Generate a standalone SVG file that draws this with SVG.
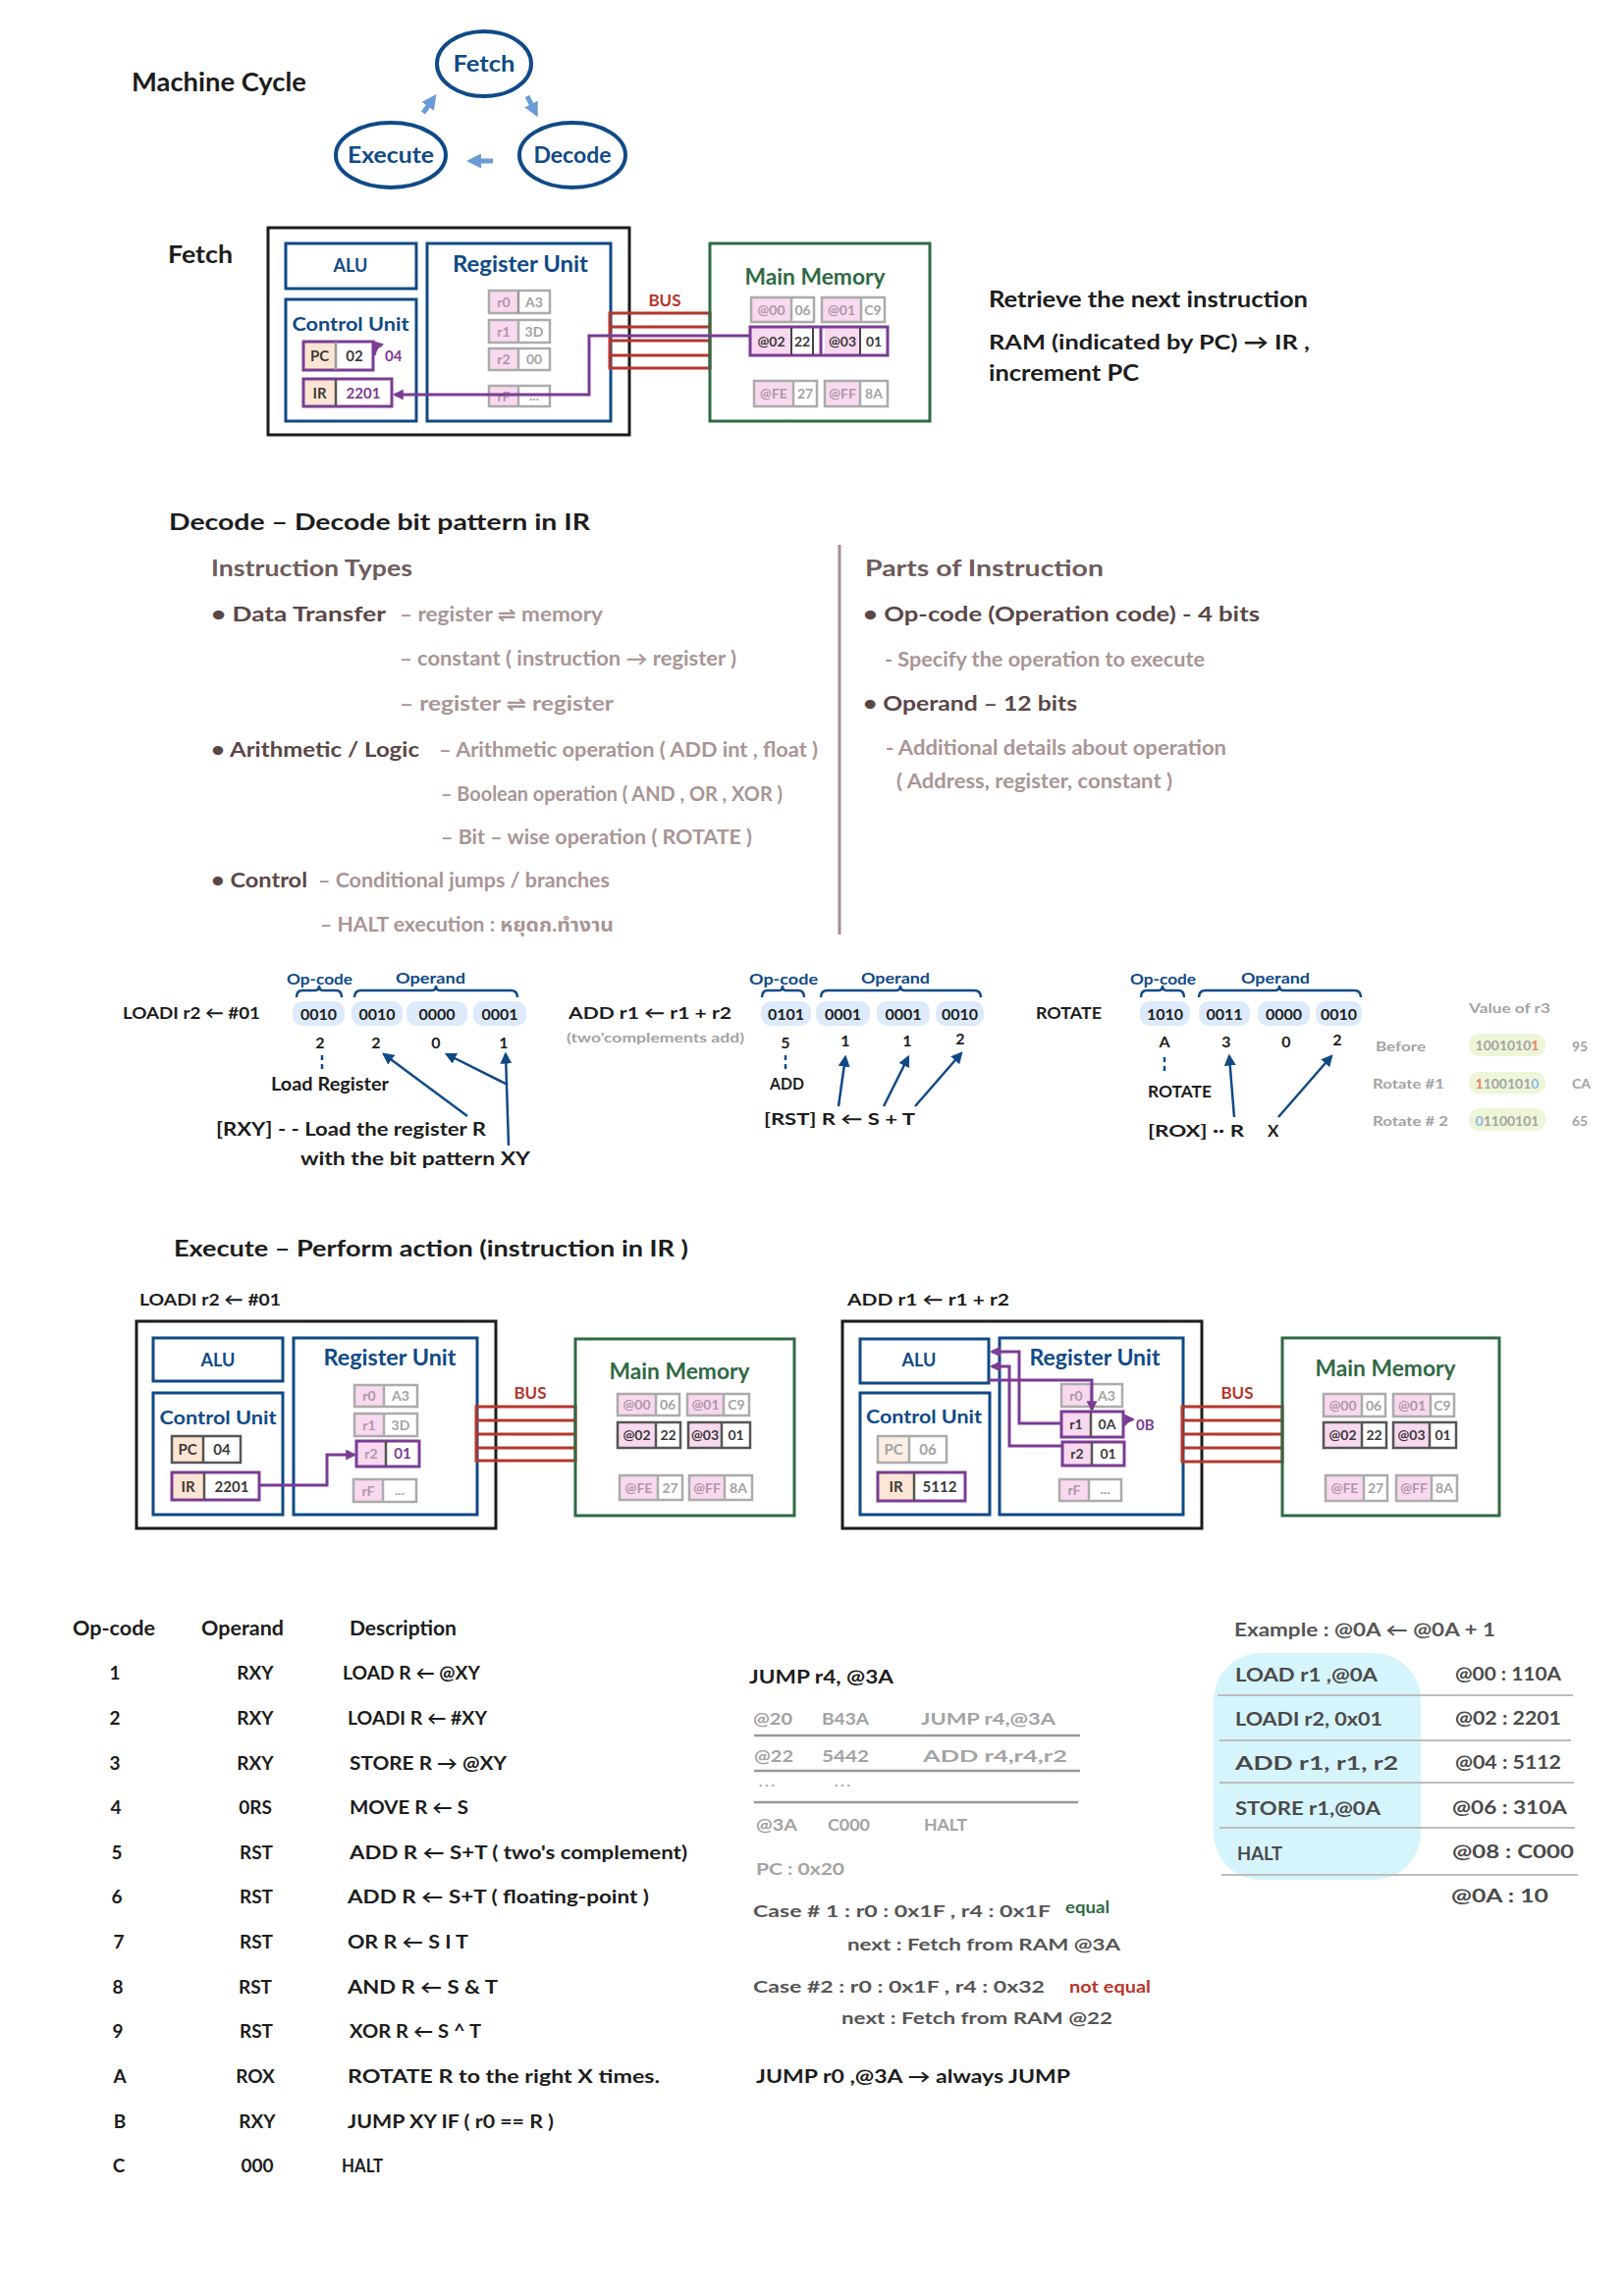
<svg xmlns="http://www.w3.org/2000/svg" width="1654" height="2339" viewBox="0 0 1654 2339">
<style>
text{font-family:Lato,"DejaVu Sans","Noto Sans","Noto Sans Thai",sans-serif;font-weight:700}
.k{fill:#1c1c1c}.b{fill:#104a86}.g{fill:#2f6a44}.r{fill:#b5362c}.p{fill:#7b3c94}
.gr{fill:#a3a3a3}.lb{fill:#b096a8}.dk{fill:#3a3a3a}.mg{fill:#555}
.h1{fill:#6e5b5b}.h2{fill:#5b4646}.h3{fill:#a99595}
.bb{fill:none;stroke:#104a86;stroke-width:3}
.bk{fill:none;stroke:#1c1c1c;stroke-width:3}
.bg{fill:none;stroke:#2f6a44;stroke-width:3}
.bus{fill:none;stroke:#b5362c;stroke-width:3}
.pink{fill:#f9d9ef}.peach{fill:#fde5d3}.white{fill:#fff}
.cg{fill:none;stroke:#ababab;stroke-width:2.5}
.cd{fill:none;stroke:#555;stroke-width:2.5}
.cp{fill:none;stroke:#7b3c94;stroke-width:3}
.pl{fill:none;stroke:#7b3c94;stroke-width:3}
.bl{fill:none;stroke:#104a86;stroke-width:2.5}
.ds{fill:none;stroke:#104a86;stroke-width:2.5;stroke-dasharray:5 4}
.pill{fill:#dceafb}.vpill{fill:#eef6d8}
.sep{stroke:#999;stroke-width:2.5}
.sepl{stroke:#bdbdbd;stroke-width:2}
.cy{fill:none;stroke:#6b9bd6;stroke-width:5}
.ell{fill:#fff;stroke:#104a86;stroke-width:4}
.c{text-anchor:middle}
</style>
<defs>
<marker id="ap" viewBox="0 0 10 10" refX="8" refY="5" markerWidth="11" markerHeight="11" markerUnits="userSpaceOnUse" orient="auto"><path d="M0,0 L10,5 L0,10 z" fill="#7b3c94"/></marker>
<marker id="ab" viewBox="0 0 10 10" refX="8" refY="5" markerWidth="12" markerHeight="12" markerUnits="userSpaceOnUse" orient="auto"><path d="M0,0 L10,5 L0,10 z" fill="#104a86"/></marker>
<marker id="al" viewBox="0 0 10 10" refX="6" refY="5" markerWidth="15" markerHeight="15" markerUnits="userSpaceOnUse" orient="auto"><path d="M0,0 L10,5 L0,10 z" fill="#6b9bd6"/></marker>
</defs>
<rect width="1654" height="2339" fill="#fff"/>

<!-- Machine cycle -->
<g id="title-cycle"><text x="134" y="93" font-size="26" class="k" textLength="178" lengthAdjust="spacingAndGlyphs">Machine  Cycle</text></g>
<g id="node-fetch"><ellipse cx="493" cy="65" rx="48" ry="33" class="ell"/><text x="493" y="73" font-size="22" class="b c" textLength="63" lengthAdjust="spacingAndGlyphs">Fetch</text></g>
<g id="node-execute"><ellipse cx="398" cy="158" rx="56" ry="33" class="ell"/><text x="398" y="166" font-size="22" class="b c" textLength="88" lengthAdjust="spacingAndGlyphs">Execute</text></g>
<g id="node-decode"><ellipse cx="583" cy="158" rx="54" ry="33" class="ell"/><text x="583" y="166" font-size="22" class="b c" textLength="79" lengthAdjust="spacingAndGlyphs">Decode</text></g>

<!-- Fetch section -->
<g id="fetch-title"><text x="171" y="268" font-size="25" class="k" textLength="66" lengthAdjust="spacingAndGlyphs">Fetch</text></g>
<g id="fetch-cpu">
<rect x="273" y="232" width="368" height="211" class="bk"/>
<rect x="291" y="248" width="133" height="46" class="bb"/>
<text x="357" y="277" font-size="18" class="b c">ALU</text>
<rect x="291" y="305" width="133" height="124" class="bb"/>
<text x="357" y="337" font-size="19" class="b c" textLength="119" lengthAdjust="spacingAndGlyphs">Control Unit</text>
<rect x="435" y="248" width="187" height="181" class="bb"/>
<text x="530" y="277" font-size="22" class="b c" textLength="138" lengthAdjust="spacingAndGlyphs">Register Unit</text>
</g>
<g id="fetch-pc">
<rect x="309" y="348" width="33" height="29" class="peach"/><rect x="342" y="348" width="38" height="29" class="white"/>
<rect x="309" y="348" width="71" height="29" class="cp"/><line x1="342" y1="348" x2="342" y2="377" class="sep" stroke="#555"/>
<text x="325.5" y="368" font-size="15" class="dk c">PC</text><text x="361" y="368" font-size="15" class="dk c">02</text>
<path d="M381,362 Q383,352 389,351" class="pl" stroke-width="2" marker-end="url(#ap)"/>
<text x="392" y="368" font-size="15" class="p">04</text>
</g>
<g id="fetch-ir">
<rect x="309" y="386" width="33" height="28" class="peach"/><rect x="342" y="386" width="57" height="28" class="white"/>
<rect x="309" y="386" width="90" height="28" class="cp"/><line x1="342" y1="386" x2="342" y2="414" stroke="#555" stroke-width="2.5"/>
<text x="325.5" y="406" font-size="15" class="dk c">IR</text><text x="370" y="406" font-size="15" class="p c">2201</text>
</g>
<g id="fetch-regs">
<rect x="498" y="296" width="30" height="23" class="pink"/><rect x="498" y="296" width="62" height="23" class="cg"/><line x1="528" y1="296" x2="528" y2="319" class="sep" stroke="#ababab"/>
<text x="513" y="313" font-size="14" class="lb c">r0</text><text x="544" y="313" font-size="14" class="gr c">A3</text>
<rect x="498" y="326" width="30" height="23" class="pink"/><rect x="498" y="326" width="62" height="23" class="cg"/><line x1="528" y1="326" x2="528" y2="349" stroke="#ababab" stroke-width="2.5"/>
<text x="513" y="343" font-size="14" class="lb c">r1</text><text x="544" y="343" font-size="14" class="gr c">3D</text>
<rect x="498" y="355" width="30" height="22" class="pink"/><rect x="498" y="355" width="62" height="22" class="cg"/><line x1="528" y1="355" x2="528" y2="377" stroke="#ababab" stroke-width="2.5"/>
<text x="513" y="371" font-size="14" class="lb c">r2</text><text x="544" y="371" font-size="14" class="gr c">00</text>
<rect x="498" y="393" width="30" height="21" class="pink"/><rect x="498" y="393" width="62" height="21" class="cg"/><line x1="528" y1="393" x2="528" y2="414" stroke="#ababab" stroke-width="2.5"/>
<text x="513" y="409" font-size="14" class="lb c">rF</text><text x="544" y="408" font-size="14" class="gr c">...</text>
</g>
<g id="fetch-bus">
<text x="677" y="312" font-size="17" class="r c">BUS</text>
<rect x="621" y="319" width="102" height="56" class="bus"/>
<line x1="621" y1="333" x2="723" y2="333" class="bus"/><line x1="621" y1="347" x2="723" y2="347" class="bus"/><line x1="621" y1="362" x2="723" y2="362" class="bus"/>
</g>
<g id="fetch-memory">
<rect x="723" y="248" width="224" height="181" class="bg"/>
<text x="830" y="290" font-size="22" class="g c" textLength="143" lengthAdjust="spacingAndGlyphs">Main Memory</text>
<rect x="765" y="303" width="41" height="25" class="pink"/><rect x="765" y="303" width="64" height="25" class="cg"/><line x1="806" y1="303" x2="806" y2="328" stroke="#ababab" stroke-width="2.5"/>
<text x="785.5" y="321" font-size="14" class="lb c">@00</text><text x="817.5" y="321" font-size="14" class="gr c">06</text>
<rect x="837" y="303" width="40" height="25" class="pink"/><rect x="837" y="303" width="64" height="25" class="cg"/><line x1="877" y1="303" x2="877" y2="328" stroke="#ababab" stroke-width="2.5"/>
<text x="857" y="321" font-size="14" class="lb c">@01</text><text x="889" y="321" font-size="14" class="gr c">C9</text>
<rect x="765" y="334" width="41" height="27" class="pink"/><rect x="840" y="334" width="36" height="27" class="pink"/>
<rect x="764" y="333" width="140" height="29" class="cp"/>
<line x1="806" y1="334" x2="806" y2="361" stroke="#444" stroke-width="2"/><line x1="828" y1="334" x2="828" y2="361" stroke="#444" stroke-width="2"/>
<line x1="836" y1="334" x2="836" y2="361" class="pl"/><line x1="876" y1="334" x2="876" y2="361" stroke="#444" stroke-width="2"/>
<text x="785.5" y="353" font-size="14" class="dk c">@02</text><text x="817" y="353" font-size="14" class="dk c">22</text>
<text x="858" y="353" font-size="14" class="dk c">@03</text><text x="890" y="353" font-size="14" class="dk c">01</text>
<rect x="768" y="388" width="40" height="26" class="pink"/><rect x="768" y="388" width="64" height="26" class="cg"/><line x1="808" y1="388" x2="808" y2="414" stroke="#ababab" stroke-width="2.5"/>
<text x="788" y="406" font-size="14" class="lb c">@FE</text><text x="820" y="406" font-size="14" class="gr c">27</text>
<rect x="840" y="388" width="36" height="26" class="pink"/><rect x="840" y="388" width="64" height="26" class="cg"/><line x1="876" y1="388" x2="876" y2="414" stroke="#ababab" stroke-width="2.5"/>
<text x="858" y="406" font-size="14" class="lb c">@FF</text><text x="890" y="406" font-size="14" class="gr c">8A</text>
</g>
<g id="fetch-note" class="k">
<text x="1007" y="313" font-size="22" class="k" textLength="325" lengthAdjust="spacingAndGlyphs">Retrieve  the  next instruction</text>
<text x="1007" y="356" font-size="21" class="k" textLength="327" lengthAdjust="spacingAndGlyphs">RAM (indicated by PC) → IR ,</text>
<text x="1007" y="388" font-size="22" class="k" textLength="153" lengthAdjust="spacingAndGlyphs">increment  PC</text>
</g>

<!-- Decode section -->
<g id="decode-text">
<text x="172" y="540" font-size="23" class="k" textLength="429" lengthAdjust="spacingAndGlyphs">Decode  – Decode bit  pattern  in IR</text>
<text x="215" y="587" font-size="22" class="h1" textLength="205" lengthAdjust="spacingAndGlyphs">Instruction  Types</text>
<text x="215" y="633" font-size="21" class="h2" textLength="178" lengthAdjust="spacingAndGlyphs">• Data  Transfer</text>
<text x="407" y="633" font-size="20" class="h3" textLength="207" lengthAdjust="spacingAndGlyphs">– register ⇌ memory</text>
<text x="407" y="678" font-size="20" class="h3" textLength="343" lengthAdjust="spacingAndGlyphs">– constant ( instruction → register )</text>
<text x="407" y="724" font-size="20" class="h3" textLength="218" lengthAdjust="spacingAndGlyphs">–  register ⇌ register</text>
<text x="215" y="771" font-size="21" class="h2" textLength="212" lengthAdjust="spacingAndGlyphs">• Arithmetic / Logic</text>
<text x="447" y="771" font-size="20" class="h3" textLength="386" lengthAdjust="spacingAndGlyphs">– Arithmetic  operation ( ADD int , float )</text>
<text x="449" y="816" font-size="20" class="h3" textLength="348" lengthAdjust="spacingAndGlyphs">– Boolean  operation ( AND , OR , XOR )</text>
<text x="449" y="860" font-size="20" class="h3" textLength="317" lengthAdjust="spacingAndGlyphs">– Bit – wise   operation ( ROTATE )</text>
<text x="215" y="904" font-size="21" class="h2" textLength="98" lengthAdjust="spacingAndGlyphs">• Control</text>
<text x="324" y="904" font-size="20" class="h3" textLength="297" lengthAdjust="spacingAndGlyphs">– Conditional  jumps / branches</text>
<text x="326" y="949" font-size="20" class="h3" textLength="299" lengthAdjust="spacingAndGlyphs">– HALT execution : หยุดก.ทำงาน</text>
<line x1="855" y1="555" x2="855" y2="952" stroke="#a48f8f" stroke-width="3"/>
<text x="881" y="587" font-size="22" class="h1" textLength="243" lengthAdjust="spacingAndGlyphs">Parts  of  Instruction</text>
<text x="879" y="633" font-size="21" class="h2" textLength="404" lengthAdjust="spacingAndGlyphs">• Op-code (Operation code) - 4 bits</text>
<text x="901" y="679" font-size="20" class="h3" textLength="326" lengthAdjust="spacingAndGlyphs">- Specify  the  operation  to execute</text>
<text x="879" y="724" font-size="21" class="h2" textLength="218" lengthAdjust="spacingAndGlyphs">• Operand – 12 bits</text>
<text x="902" y="769" font-size="20" class="h3" textLength="347" lengthAdjust="spacingAndGlyphs">- Additional  details  about  operation</text>
<text x="913" y="803" font-size="20" class="h3" textLength="281" lengthAdjust="spacingAndGlyphs">( Address, register, constant )</text>
</g>

<!-- Instruction bit patterns -->
<g id="instr-loadi">
<text x="125" y="1038" font-size="17" class="k" textLength="140" lengthAdjust="spacingAndGlyphs">LOADI  r2 ← #01</text>
<text x="292" y="1003" font-size="15" class="b" textLength="67" lengthAdjust="spacingAndGlyphs">Op-code</text>
<text x="403" y="1002" font-size="15" class="b" textLength="71" lengthAdjust="spacingAndGlyphs">Operand</text>
<path d="M302,1016 Q302,1009 308,1009 H321 Q325,1009 325,1004 Q325,1009 329,1009 H342 Q348,1009 348,1016" class="bl"/>
<path d="M361,1016 Q361,1009 368,1009 H440 Q444,1009 444,1004 Q444,1009 448,1009 H520 Q527,1009 527,1016" class="bl"/>
<rect x="298" y="1020" width="53" height="25" rx="10" class="pill"/><rect x="358" y="1020" width="52" height="25" rx="10" class="pill"/>
<rect x="414" y="1020" width="62" height="25" rx="10" class="pill"/><rect x="482" y="1020" width="54" height="25" rx="10" class="pill"/>
<text x="324.5" y="1039" font-size="16" class="k c">0010</text><text x="384" y="1039" font-size="16" class="k c">0010</text>
<text x="445" y="1039" font-size="16" class="k c">0000</text><text x="509" y="1039" font-size="16" class="k c">0001</text>
<text x="326" y="1068" font-size="16" class="k c">2</text><text x="383" y="1068" font-size="16" class="k c">2</text>
<text x="444" y="1068" font-size="16" class="k c">0</text><text x="513" y="1068" font-size="16" class="k c">1</text>
<text x="276" y="1111" font-size="18" class="k" textLength="120" lengthAdjust="spacingAndGlyphs">Load Register</text>
<text x="220" y="1157" font-size="18" class="k" textLength="275" lengthAdjust="spacingAndGlyphs">[RXY] - - Load  the  register  R</text>
<text x="306" y="1187" font-size="18" class="k" textLength="234" lengthAdjust="spacingAndGlyphs">with  the  bit  pattern  XY</text>
</g>
<g id="instr-add">
<text x="579" y="1038" font-size="17" class="k" textLength="166" lengthAdjust="spacingAndGlyphs">ADD   r1 ← r1 + r2</text>
<text x="577" y="1062" font-size="14" class="gr" textLength="181" lengthAdjust="spacingAndGlyphs">(two'complements add)</text>
<text x="763" y="1003" font-size="15" class="b" textLength="70" lengthAdjust="spacingAndGlyphs">Op-code</text>
<text x="877" y="1002" font-size="15" class="b" textLength="70" lengthAdjust="spacingAndGlyphs">Operand</text>
<path d="M776,1016 Q776,1009 782,1009 H794 Q797,1009 797,1004 Q797,1009 800,1009 H813 Q819,1009 819,1016" class="bl"/>
<path d="M836,1016 Q836,1009 843,1009 H913 Q917,1009 917,1004 Q917,1009 921,1009 H992 Q999,1009 999,1016" class="bl"/>
<rect x="775" y="1020" width="51" height="25" rx="10" class="pill"/><rect x="831" y="1020" width="55" height="25" rx="10" class="pill"/>
<rect x="893" y="1020" width="54" height="25" rx="10" class="pill"/><rect x="953" y="1020" width="49" height="25" rx="10" class="pill"/>
<text x="800.5" y="1039" font-size="16" class="k c">0101</text><text x="858.5" y="1039" font-size="16" class="k c">0001</text>
<text x="920" y="1039" font-size="16" class="k c">0001</text><text x="977.5" y="1039" font-size="16" class="k c">0010</text>
<text x="800" y="1068" font-size="16" class="k c">5</text><text x="861" y="1066" font-size="16" class="k c">1</text>
<text x="924" y="1066" font-size="16" class="k c">1</text><text x="978" y="1064" font-size="16" class="k c">2</text>
<text x="784" y="1110" font-size="17" class="k" textLength="35" lengthAdjust="spacingAndGlyphs">ADD</text>
<text x="778" y="1146" font-size="17" class="k" textLength="154" lengthAdjust="spacingAndGlyphs">[RST]  R ← S + T</text>
</g>
<g id="instr-rotate">
<text x="1055" y="1038" font-size="17" class="k" textLength="67" lengthAdjust="spacingAndGlyphs">ROTATE</text>
<text x="1151" y="1003" font-size="15" class="b" textLength="67" lengthAdjust="spacingAndGlyphs">Op-code</text>
<text x="1264" y="1002" font-size="15" class="b" textLength="70" lengthAdjust="spacingAndGlyphs">Operand</text>
<path d="M1162,1016 Q1162,1009 1168,1009 H1180 Q1184,1009 1184,1004 Q1184,1009 1188,1009 H1200 Q1206,1009 1206,1016" class="bl"/>
<path d="M1221,1016 Q1221,1009 1228,1009 H1299 Q1303,1009 1303,1004 Q1303,1009 1307,1009 H1379 Q1386,1009 1386,1016" class="bl"/>
<rect x="1161" y="1020" width="51" height="25" rx="10" class="pill"/><rect x="1221" y="1020" width="52" height="25" rx="10" class="pill"/>
<rect x="1281" y="1020" width="53" height="25" rx="10" class="pill"/><rect x="1340" y="1020" width="47" height="25" rx="10" class="pill"/>
<text x="1186.5" y="1039" font-size="16" class="k c">1010</text><text x="1247" y="1039" font-size="16" class="k c">0011</text>
<text x="1307.5" y="1039" font-size="16" class="k c">0000</text><text x="1363.5" y="1039" font-size="16" class="k c">0010</text>
<text x="1186" y="1067" font-size="16" class="k c">A</text><text x="1249" y="1067" font-size="16" class="k c">3</text>
<text x="1310" y="1067" font-size="16" class="k c">0</text><text x="1362" y="1065" font-size="16" class="k c">2</text>
<text x="1169" y="1118" font-size="17" class="k" textLength="65" lengthAdjust="spacingAndGlyphs">ROTATE</text>
<text x="1169" y="1158" font-size="17" class="k" textLength="98" lengthAdjust="spacingAndGlyphs">[ROX] ·· R</text>
<text x="1291" y="1158" font-size="17" class="k">X</text>
</g>
<g id="rotate-values">
<text x="1496" y="1032" font-size="14" class="gr" textLength="83" lengthAdjust="spacingAndGlyphs">Value of r3</text>
<text x="1401" y="1071" font-size="14" class="gr" textLength="51" lengthAdjust="spacingAndGlyphs">Before</text>
<text x="1398" y="1109" font-size="14" class="gr" textLength="73" lengthAdjust="spacingAndGlyphs">Rotate #1</text>
<text x="1398" y="1147" font-size="14" class="gr" textLength="77" lengthAdjust="spacingAndGlyphs">Rotate # 2</text>
<rect x="1496" y="1053" width="78" height="23" rx="10" class="vpill"/>
<rect x="1496" y="1092" width="78" height="22" rx="10" class="vpill"/>
<rect x="1496" y="1129" width="78" height="23" rx="10" class="vpill"/>
<text x="1535" y="1070" font-size="14" class="gr c">1001010<tspan fill="#e8806a">1</tspan></text>
<text x="1535" y="1109" font-size="14" class="gr c"><tspan fill="#e8806a">1</tspan>100101<tspan fill="#8fb6e8">0</tspan></text>
<text x="1535" y="1147" font-size="14" class="gr c"><tspan fill="#8fb6e8">0</tspan>1100101</text>
<text x="1601" y="1071" font-size="14" class="gr">95</text>
<text x="1601" y="1109" font-size="14" class="gr">CA</text>
<text x="1601" y="1147" font-size="14" class="gr">65</text>
</g>

<!-- Execute section -->
<g id="execute-title"><text x="177" y="1280" font-size="23" class="k" textLength="524" lengthAdjust="spacingAndGlyphs">Execute  –  Perform action (instruction in IR )</text></g>
<g id="exec-loadi-cpu">
<text x="142" y="1330" font-size="17" class="k" textLength="144" lengthAdjust="spacingAndGlyphs">LOADI   r2 ← #01</text>
<rect x="139" y="1346" width="366" height="211" class="bk"/>
<rect x="156" y="1363" width="132" height="44" class="bb"/>
<text x="222" y="1392" font-size="18" class="b c">ALU</text>
<rect x="156" y="1419" width="132" height="124" class="bb"/>
<text x="222" y="1451" font-size="19" class="b c" textLength="119" lengthAdjust="spacingAndGlyphs">Control Unit</text>
<rect x="299" y="1363" width="187" height="180" class="bb"/>
<text x="397" y="1391" font-size="22" class="b c" textLength="135" lengthAdjust="spacingAndGlyphs">Register Unit</text>
<rect x="175" y="1463" width="32" height="27" class="peach"/><rect x="175" y="1463" width="70" height="27" class="cd"/><line x1="207" y1="1463" x2="207" y2="1490" stroke="#555" stroke-width="2.5"/>
<text x="191" y="1482" font-size="15" class="dk c">PC</text><text x="226" y="1482" font-size="15" class="dk c">04</text>
<rect x="175" y="1500" width="33" height="28" class="peach"/><rect x="175" y="1500" width="89" height="28" class="cp"/><line x1="208" y1="1500" x2="208" y2="1528" stroke="#555" stroke-width="2.5"/>
<text x="191.5" y="1520" font-size="15" class="dk c">IR</text><text x="236" y="1520" font-size="15" class="dk c">2201</text>
<rect x="361" y="1411" width="30" height="22" class="pink"/><rect x="361" y="1411" width="64" height="22" class="cg"/><line x1="391" y1="1411" x2="391" y2="1433" stroke="#ababab" stroke-width="2.5"/>
<text x="376" y="1427" font-size="14" class="lb c">r0</text><text x="408" y="1427" font-size="14" class="gr c">A3</text>
<rect x="361" y="1440" width="30" height="23" class="pink"/><rect x="361" y="1440" width="64" height="23" class="cg"/><line x1="391" y1="1440" x2="391" y2="1463" stroke="#ababab" stroke-width="2.5"/>
<text x="376" y="1457" font-size="14" class="lb c">r1</text><text x="408" y="1457" font-size="14" class="gr c">3D</text>
<rect x="363" y="1468" width="30" height="26" class="pink"/><rect x="363" y="1468" width="64" height="26" class="cp"/><line x1="393" y1="1468" x2="393" y2="1494" stroke="#555" stroke-width="2.5"/>
<text x="378" y="1486" font-size="14" class="lb c">r2</text><text x="410" y="1486" font-size="15" class="p c">01</text>
<rect x="360" y="1507" width="30" height="23" class="pink"/><rect x="360" y="1507" width="64" height="23" class="cg"/><line x1="390" y1="1507" x2="390" y2="1530" stroke="#ababab" stroke-width="2.5"/>
<text x="375" y="1524" font-size="14" class="lb c">rF</text><text x="407" y="1523" font-size="14" class="gr c">...</text>
<text x="540" y="1425" font-size="17" class="r c">BUS</text>
<rect x="485" y="1433" width="101" height="55" class="bus"/>
<line x1="485" y1="1447" x2="586" y2="1447" class="bus"/><line x1="485" y1="1461" x2="586" y2="1461" class="bus"/><line x1="485" y1="1475" x2="586" y2="1475" class="bus"/>
</g>
<g id="exec-loadi-memory">
<rect x="586" y="1364" width="223" height="180" class="bg"/>
<text x="692" y="1405" font-size="22" class="g c" textLength="143" lengthAdjust="spacingAndGlyphs">Main Memory</text>
<rect x="629" y="1420" width="39" height="22" class="pink"/><rect x="629" y="1420" width="63" height="22" class="cg"/><line x1="668" y1="1420" x2="668" y2="1442" stroke="#ababab" stroke-width="2.5"/>
<text x="648.5" y="1436" font-size="14" class="lb c">@00</text><text x="680" y="1436" font-size="14" class="gr c">06</text>
<rect x="700" y="1420" width="37" height="22" class="pink"/><rect x="700" y="1420" width="63" height="22" class="cg"/><line x1="737" y1="1420" x2="737" y2="1442" stroke="#ababab" stroke-width="2.5"/>
<text x="718.5" y="1436" font-size="14" class="lb c">@01</text><text x="750" y="1436" font-size="14" class="gr c">C9</text>
<rect x="629" y="1449" width="39" height="26" class="pink"/><rect x="629" y="1449" width="64" height="26" class="cd"/><line x1="668" y1="1449" x2="668" y2="1475" stroke="#555" stroke-width="2.5"/>
<text x="648.5" y="1467" font-size="14" class="dk c">@02</text><text x="680.5" y="1467" font-size="14" class="dk c">22</text>
<rect x="701" y="1449" width="34" height="26" class="pink"/><rect x="701" y="1449" width="63" height="26" class="cd"/><line x1="735" y1="1449" x2="735" y2="1475" stroke="#555" stroke-width="2.5"/>
<text x="718" y="1467" font-size="14" class="dk c">@03</text><text x="749.5" y="1467" font-size="14" class="dk c">01</text>
<rect x="631" y="1503" width="39" height="25" class="pink"/><rect x="631" y="1503" width="64" height="25" class="cg"/><line x1="670" y1="1503" x2="670" y2="1528" stroke="#ababab" stroke-width="2.5"/>
<text x="650.5" y="1521" font-size="14" class="lb c">@FE</text><text x="682.5" y="1521" font-size="14" class="gr c">27</text>
<rect x="702" y="1503" width="36" height="25" class="pink"/><rect x="702" y="1503" width="64" height="25" class="cg"/><line x1="738" y1="1503" x2="738" y2="1528" stroke="#ababab" stroke-width="2.5"/>
<text x="720" y="1521" font-size="14" class="lb c">@FF</text><text x="752" y="1521" font-size="14" class="gr c">8A</text>
</g>

<g id="exec-add-cpu">
<text x="863" y="1330" font-size="17" class="k" textLength="165" lengthAdjust="spacingAndGlyphs">ADD   r1 ← r1 + r2</text>
<rect x="858" y="1346" width="366" height="211" class="bk"/>
<rect x="876" y="1364" width="131" height="45" class="bb"/>
<text x="936" y="1392" font-size="18" class="b c">ALU</text>
<rect x="876" y="1419" width="132" height="124" class="bb"/>
<text x="941" y="1450" font-size="19" class="b c" textLength="118" lengthAdjust="spacingAndGlyphs">Control Unit</text>
<rect x="1018" y="1363" width="187" height="180" class="bb"/>
<text x="1115" y="1391" font-size="22" class="b c" textLength="133" lengthAdjust="spacingAndGlyphs">Register Unit</text>
<rect x="894" y="1463" width="32" height="27" fill="#fdeee4"/><rect x="894" y="1463" width="70" height="27" class="cg"/><line x1="926" y1="1463" x2="926" y2="1490" stroke="#ababab" stroke-width="2.5"/>
<text x="910" y="1482" font-size="15" class="gr c">PC</text><text x="945" y="1482" font-size="15" class="gr c">06</text>
<rect x="894" y="1500" width="37" height="29" class="peach"/><rect x="894" y="1500" width="89" height="29" class="cp"/><line x1="931" y1="1500" x2="931" y2="1529" stroke="#555" stroke-width="2.5"/>
<text x="912.5" y="1520" font-size="15" class="dk c">IR</text><text x="957" y="1520" font-size="15" class="dk c">5112</text>
<rect x="1081" y="1410" width="30" height="23" class="pink"/><rect x="1081" y="1410" width="62" height="23" class="cg"/><line x1="1111" y1="1410" x2="1111" y2="1433" stroke="#ababab" stroke-width="2.5"/>
<text x="1096" y="1427" font-size="14" class="lb c">r0</text><text x="1127" y="1427" font-size="14" class="gr c">A3</text>
<rect x="1081" y="1438" width="30" height="26" class="pink"/><rect x="1081" y="1438" width="63" height="26" class="cp"/><line x1="1111" y1="1438" x2="1111" y2="1464" stroke="#555" stroke-width="2.5"/>
<text x="1096" y="1456" font-size="14" class="dk c">r1</text><text x="1127.5" y="1456" font-size="14" class="dk c">0A</text>
<path d="M1145,1452 Q1148,1446 1154,1446" class="pl" stroke-width="2" marker-end="url(#ap)"/>
<text x="1157" y="1457" font-size="15" class="p">0B</text>
<rect x="1082" y="1469" width="30" height="24" class="pink"/><rect x="1082" y="1469" width="63" height="24" class="cp"/><line x1="1112" y1="1469" x2="1112" y2="1493" stroke="#555" stroke-width="2.5"/>
<text x="1097" y="1486" font-size="14" class="dk c">r2</text><text x="1128.5" y="1486" font-size="14" class="dk c">01</text>
<rect x="1079" y="1507" width="30" height="22" class="pink"/><rect x="1079" y="1507" width="63" height="22" class="cg"/><line x1="1109" y1="1507" x2="1109" y2="1529" stroke="#ababab" stroke-width="2.5"/>
<text x="1094" y="1523" font-size="14" class="lb c">rF</text><text x="1125.5" y="1522" font-size="14" class="gr c">...</text>
<text x="1260" y="1425" font-size="17" class="r c">BUS</text>
<rect x="1204" y="1433" width="102" height="56" class="bus"/>
<line x1="1204" y1="1447" x2="1306" y2="1447" class="bus"/><line x1="1204" y1="1461" x2="1306" y2="1461" class="bus"/><line x1="1204" y1="1475" x2="1306" y2="1475" class="bus"/>
</g>
<g id="exec-add-memory">
<rect x="1306" y="1363" width="221" height="181" class="bg"/>
<text x="1411" y="1402" font-size="22" class="g c" textLength="143" lengthAdjust="spacingAndGlyphs">Main Memory</text>
<rect x="1348" y="1420" width="39" height="23" class="pink"/><rect x="1348" y="1420" width="63" height="23" class="cg"/><line x1="1387" y1="1420" x2="1387" y2="1443" stroke="#ababab" stroke-width="2.5"/>
<text x="1367.5" y="1437" font-size="14" class="lb c">@00</text><text x="1399" y="1437" font-size="14" class="gr c">06</text>
<rect x="1419" y="1420" width="38" height="23" class="pink"/><rect x="1419" y="1420" width="62" height="23" class="cg"/><line x1="1457" y1="1420" x2="1457" y2="1443" stroke="#ababab" stroke-width="2.5"/>
<text x="1438" y="1437" font-size="14" class="lb c">@01</text><text x="1469" y="1437" font-size="14" class="gr c">C9</text>
<rect x="1348" y="1449" width="39" height="26" class="pink"/><rect x="1348" y="1449" width="64" height="26" class="cd"/><line x1="1387" y1="1449" x2="1387" y2="1475" stroke="#555" stroke-width="2.5"/>
<text x="1367.5" y="1467" font-size="14" class="dk c">@02</text><text x="1399.5" y="1467" font-size="14" class="dk c">22</text>
<rect x="1419" y="1449" width="37" height="26" class="pink"/><rect x="1419" y="1449" width="64" height="26" class="cd"/><line x1="1456" y1="1449" x2="1456" y2="1475" stroke="#555" stroke-width="2.5"/>
<text x="1437.5" y="1467" font-size="14" class="dk c">@03</text><text x="1469.5" y="1467" font-size="14" class="dk c">01</text>
<rect x="1350" y="1503" width="39" height="26" class="pink"/><rect x="1350" y="1503" width="63" height="26" class="cg"/><line x1="1389" y1="1503" x2="1389" y2="1529" stroke="#ababab" stroke-width="2.5"/>
<text x="1369.5" y="1521" font-size="14" class="lb c">@FE</text><text x="1401" y="1521" font-size="14" class="gr c">27</text>
<rect x="1422" y="1503" width="36" height="26" class="pink"/><rect x="1422" y="1503" width="62" height="26" class="cg"/><line x1="1458" y1="1503" x2="1458" y2="1529" stroke="#ababab" stroke-width="2.5"/>
<text x="1440" y="1521" font-size="14" class="lb c">@FF</text><text x="1471" y="1521" font-size="14" class="gr c">8A</text>
</g>

<!-- Op-code table -->
<g id="opcode-table" font-size="19">
<text x="74" y="1666" font-size="21" class="k" textLength="84" lengthAdjust="spacingAndGlyphs">Op-code</text>
<text x="205" y="1666" font-size="21" class="k" textLength="84" lengthAdjust="spacingAndGlyphs">Operand</text>
<text x="356" y="1666" font-size="21" class="k" textLength="109" lengthAdjust="spacingAndGlyphs">Description</text>
<text x="117" y="1711" class="k c">1</text><text x="260" y="1711" class="k c">RXY</text><text x="349" y="1711" class="k" textLength="140" lengthAdjust="spacingAndGlyphs">LOAD R ← @XY</text>
<text x="117" y="1757" class="k c">2</text><text x="260" y="1757" class="k c">RXY</text><text x="354" y="1757" class="k" textLength="142" lengthAdjust="spacingAndGlyphs">LOADI R ← #XY</text>
<text x="117" y="1803" class="k c">3</text><text x="260" y="1803" class="k c">RXY</text><text x="356" y="1803" class="k" textLength="160" lengthAdjust="spacingAndGlyphs">STORE   R → @XY</text>
<text x="118" y="1848" class="k c">4</text><text x="260" y="1848" class="k c">0RS</text><text x="356" y="1848" class="k" textLength="121" lengthAdjust="spacingAndGlyphs">MOVE  R ← S</text>
<text x="119" y="1894" class="k c">5</text><text x="261" y="1894" class="k c">RST</text><text x="356" y="1894" class="k" textLength="344" lengthAdjust="spacingAndGlyphs">ADD  R ← S+T ( two's  complement)</text>
<text x="119" y="1939" class="k c">6</text><text x="261" y="1939" class="k c">RST</text><text x="354" y="1939" class="k" textLength="307" lengthAdjust="spacingAndGlyphs">ADD  R ← S+T  ( floating-point )</text>
<text x="121" y="1985" class="k c">7</text><text x="261" y="1985" class="k c">RST</text><text x="354" y="1985" class="k" textLength="123" lengthAdjust="spacingAndGlyphs">OR  R ← S I T</text>
<text x="120" y="2031" class="k c">8</text><text x="260" y="2031" class="k c">RST</text><text x="354" y="2031" class="k" textLength="153" lengthAdjust="spacingAndGlyphs">AND  R ← S &amp; T</text>
<text x="120" y="2076" class="k c">9</text><text x="261" y="2076" class="k c">RST</text><text x="356" y="2076" class="k" textLength="134" lengthAdjust="spacingAndGlyphs">XOR  R ← S ^ T</text>
<text x="122" y="2122" class="k c">A</text><text x="260" y="2122" class="k c">ROX</text><text x="354" y="2122" class="k" textLength="318" lengthAdjust="spacingAndGlyphs">ROTATE  R  to the right  X  times.</text>
<text x="122" y="2168" class="k c">B</text><text x="262" y="2168" class="k c">RXY</text><text x="354" y="2168" class="k" textLength="210" lengthAdjust="spacingAndGlyphs">JUMP  XY  IF ( r0 == R )</text>
<text x="121" y="2213" class="k c">C</text><text x="262" y="2213" class="k c">000</text><text x="348" y="2213" class="k" textLength="42" lengthAdjust="spacingAndGlyphs">HALT</text>
</g>

<!-- Jump example -->
<g id="jump-example" font-size="17">
<text x="763" y="1715" font-size="18" class="k" textLength="147" lengthAdjust="spacingAndGlyphs">JUMP  r4, @3A</text>
<text x="767" y="1757" class="gr" textLength="40" lengthAdjust="spacingAndGlyphs">@20</text>
<text x="837" y="1757" class="gr" textLength="48" lengthAdjust="spacingAndGlyphs">B43A</text>
<text x="938" y="1757" class="gr" textLength="137" lengthAdjust="spacingAndGlyphs">JUMP  r4,@3A</text>
<line x1="768" y1="1768" x2="1100" y2="1768" class="sep"/>
<text x="768" y="1795" class="gr" textLength="40" lengthAdjust="spacingAndGlyphs">@22</text>
<text x="837" y="1795" class="gr" textLength="48" lengthAdjust="spacingAndGlyphs">5442</text>
<text x="940" y="1795" class="gr" textLength="147" lengthAdjust="spacingAndGlyphs">ADD   r4,r4,r2</text>
<line x1="768" y1="1804" x2="1100" y2="1804" class="sep"/>
<text x="773" y="1822" class="gr" font-size="12">· · ·</text>
<text x="850" y="1822" class="gr" font-size="12">· · ·</text>
<line x1="768" y1="1836" x2="1098" y2="1836" class="sep"/>
<text x="770" y="1865" class="gr" textLength="42" lengthAdjust="spacingAndGlyphs">@3A</text>
<text x="843" y="1865" class="gr" textLength="43" lengthAdjust="spacingAndGlyphs">C000</text>
<text x="941" y="1865" class="gr" textLength="44" lengthAdjust="spacingAndGlyphs">HALT</text>
<text x="770" y="1910" class="gr" textLength="90" lengthAdjust="spacingAndGlyphs">PC : 0x20</text>
<text x="767" y="1953" class="mg" textLength="303" lengthAdjust="spacingAndGlyphs">Case # 1 :  r0 : 0x1F   , r4 : 0x1F</text>
<text x="1085" y="1949" class="g" textLength="45" lengthAdjust="spacingAndGlyphs">equal</text>
<text x="863" y="1987" class="mg" textLength="278" lengthAdjust="spacingAndGlyphs">next :  Fetch  from RAM  @3A</text>
<text x="767" y="2030" class="mg" textLength="297" lengthAdjust="spacingAndGlyphs">Case #2  : r0 : 0x1F ,  r4 : 0x32</text>
<text x="1089" y="2030" class="r" textLength="83" lengthAdjust="spacingAndGlyphs">not  equal</text>
<text x="857" y="2062" class="mg" textLength="276" lengthAdjust="spacingAndGlyphs">next :  Fetch  from RAM  @22</text>
<text x="770" y="2122" font-size="18" class="k" textLength="320" lengthAdjust="spacingAndGlyphs">JUMP  r0 ,@3A  → always  JUMP</text>
</g>

<!-- Program example -->
<g id="program-example" font-size="18">
<text x="1257" y="1667" class="mg" textLength="266" lengthAdjust="spacingAndGlyphs">Example  :  @0A  ← @0A + 1</text>
<rect x="1236" y="1684" width="211" height="231" rx="48" fill="#d6f4fc"/>
<line x1="1240" y1="1727" x2="1602" y2="1727" class="sepl"/>
<line x1="1242" y1="1773" x2="1600" y2="1773" class="sepl"/>
<line x1="1242" y1="1816" x2="1603" y2="1816" class="sepl"/>
<line x1="1242" y1="1862" x2="1604" y2="1862" class="sepl"/>
<line x1="1244" y1="1910" x2="1607" y2="1910" class="sepl"/>
<text x="1258" y="1713" fill="#4a4a4a" textLength="145" lengthAdjust="spacingAndGlyphs">LOAD   r1 ,@0A</text>
<text x="1258" y="1758" fill="#4a4a4a" textLength="150" lengthAdjust="spacingAndGlyphs">LOADI r2, 0x01</text>
<text x="1258" y="1803" fill="#4a4a4a" textLength="166" lengthAdjust="spacingAndGlyphs">ADD    r1, r1, r2</text>
<text x="1258" y="1849" fill="#4a4a4a" textLength="148" lengthAdjust="spacingAndGlyphs">STORE  r1,@0A</text>
<text x="1260" y="1895" fill="#4a4a4a" textLength="46" lengthAdjust="spacingAndGlyphs">HALT</text>
<text x="1482" y="1712" fill="#4a4a4a" textLength="108" lengthAdjust="spacingAndGlyphs">@00 : 110A</text>
<text x="1482" y="1757" fill="#4a4a4a" textLength="108" lengthAdjust="spacingAndGlyphs">@02 : 2201</text>
<text x="1482" y="1802" fill="#4a4a4a" textLength="108" lengthAdjust="spacingAndGlyphs">@04 : 5112</text>
<text x="1479" y="1848" fill="#4a4a4a" textLength="117" lengthAdjust="spacingAndGlyphs">@06  : 310A</text>
<text x="1479" y="1893" fill="#4a4a4a" textLength="124" lengthAdjust="spacingAndGlyphs">@08   : C000</text>
<text x="1478" y="1938" fill="#4a4a4a" textLength="99" lengthAdjust="spacingAndGlyphs">@0A  : 10</text>
</g>

<!-- Connectors -->
<g id="connectors">
<line x1="431" y1="115" x2="441" y2="101" class="cy" marker-end="url(#al)"/>
<line x1="537" y1="98" x2="545" y2="114" class="cy" marker-end="url(#al)"/>
<line x1="502" y1="164" x2="481" y2="164" class="cy" marker-end="url(#al)"/>
<path d="M764,342 H600 V402 H402" class="pl" marker-end="url(#ap)"/>
<line x1="328" y1="1075" x2="328" y2="1092" class="ds"/>
<line x1="800" y1="1075" x2="800" y2="1092" class="ds"/>
<line x1="1186" y1="1077" x2="1186" y2="1094" class="ds"/>
<line x1="476" y1="1137" x2="391" y2="1074" class="bl" marker-end="url(#ab)"/>
<line x1="517" y1="1105" x2="455" y2="1074" class="bl" marker-end="url(#ab)"/>
<line x1="518" y1="1167" x2="515" y2="1074" class="bl" marker-end="url(#ab)"/>
<line x1="854" y1="1127" x2="861" y2="1077" class="bl" marker-end="url(#ab)"/>
<line x1="900" y1="1127" x2="925" y2="1077" class="bl" marker-end="url(#ab)"/>
<line x1="932" y1="1127" x2="979" y2="1073" class="bl" marker-end="url(#ab)"/>
<line x1="1257" y1="1138" x2="1252" y2="1076" class="bl" marker-end="url(#ab)"/>
<line x1="1302" y1="1138" x2="1356" y2="1076" class="bl" marker-end="url(#ab)"/>
<path d="M264,1513 H333 V1482 H361" class="pl" marker-end="url(#ap)"/>
<path d="M1081,1450 H1038 V1377 H1010" class="pl" marker-end="url(#ap)"/>
<path d="M1082,1473 H1028 V1392 H1010" class="pl" marker-end="url(#ap)"/>
<path d="M1007,1406 H1112 V1436" class="pl" marker-end="url(#ap)"/>
</g>
</svg>
